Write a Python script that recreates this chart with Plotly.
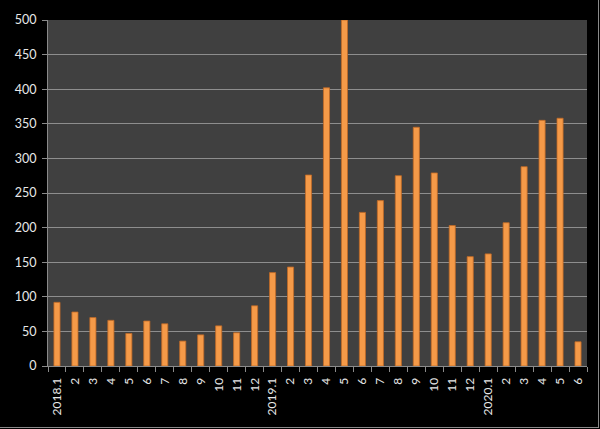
import plotly.graph_objects as go

tick_labels = ["2018.1", "2", "3", "4", "5", "6", "7", "8", "9", "10", "11", "12",
               "2019.1", "2", "3", "4", "5", "6", "7", "8", "9", "10", "11", "12",
               "2020.1", "2", "3", "4", "5", "6"]
values = [92, 78, 70, 66, 47, 65, 61, 36, 45, 58, 48, 87,
          135, 143, 276, 402, 500, 222, 239, 275, 345, 279, 203, 158,
          162, 207, 288, 355, 358, 35]
x_pos = list(range(len(values)))

W, H = 600, 429
L, R, T, B = 48, 13, 20, 63
pw, ph = W - L - R, H - T - B

fig = go.Figure()
fig.add_trace(go.Bar(
    x=x_pos, y=values, width=0.34,
    marker=dict(color="#F59A48", line=dict(color="#C06A26", width=0.8)),
    hoverinfo="x+y",
))

def px_x(p):
    return (p - L) / pw

def px_y(p):
    return (H - B - p) / ph

fig.update_layout(
    width=W, height=H,
    margin=dict(l=L, r=R, t=T, b=B, autoexpand=False),
    paper_bgcolor="#000000",
    plot_bgcolor="#404040",
    showlegend=False,
    bargap=0.6,
    font=dict(family="Lato, Open Sans, sans-serif", color="#E8E8E8", size=12),
    xaxis=dict(
        range=[-0.5, len(values) - 0.5], automargin=False,
        tickmode="array", tickvals=x_pos, ticktext=tick_labels,
        tickangle=-90, ticks="", showgrid=False, zeroline=False,
        showline=True, linecolor="#8A8A8A", linewidth=1,
        ticklabelstandoff=6,
        tickfont=dict(size=12, color="#E8E8E8"),
        minor=dict(tickmode="array", tickvals=[i - 0.5 for i in range(len(values) + 1)],
                   ticks="outside", ticklen=5, tickcolor="#8A8A8A", showgrid=False),
    ),
    yaxis=dict(
        range=[0, 500], automargin=False,
        tickmode="array", tickvals=list(range(0, 501, 50)),
        ticks="outside", ticklen=5, tickcolor="#8A8A8A",
        showgrid=True, gridcolor="#8E8E8E", gridwidth=1.3,
        zeroline=False, showline=True, linecolor="#8A8A8A", linewidth=1,
        ticklabelstandoff=3,
        tickfont=dict(size=12.5, color="#E8E8E8"),
    ),
    shapes=[
        dict(type="line", xref="paper", yref="paper",
             x0=px_x(598.5), x1=px_x(598.5), y0=px_y(428), y1=px_y(0),
             line=dict(color="#8A8A8A", width=1)),
        dict(type="line", xref="paper", yref="paper",
             x0=px_x(0), x1=px_x(599), y0=px_y(427.5), y1=px_y(427.5),
             line=dict(color="#8A8A8A", width=1)),
    ],
)

fig.write_html("out.html", config={"displayModeBar": False},
               post_script="document.body.style.margin='0';document.body.style.background='#000';")
